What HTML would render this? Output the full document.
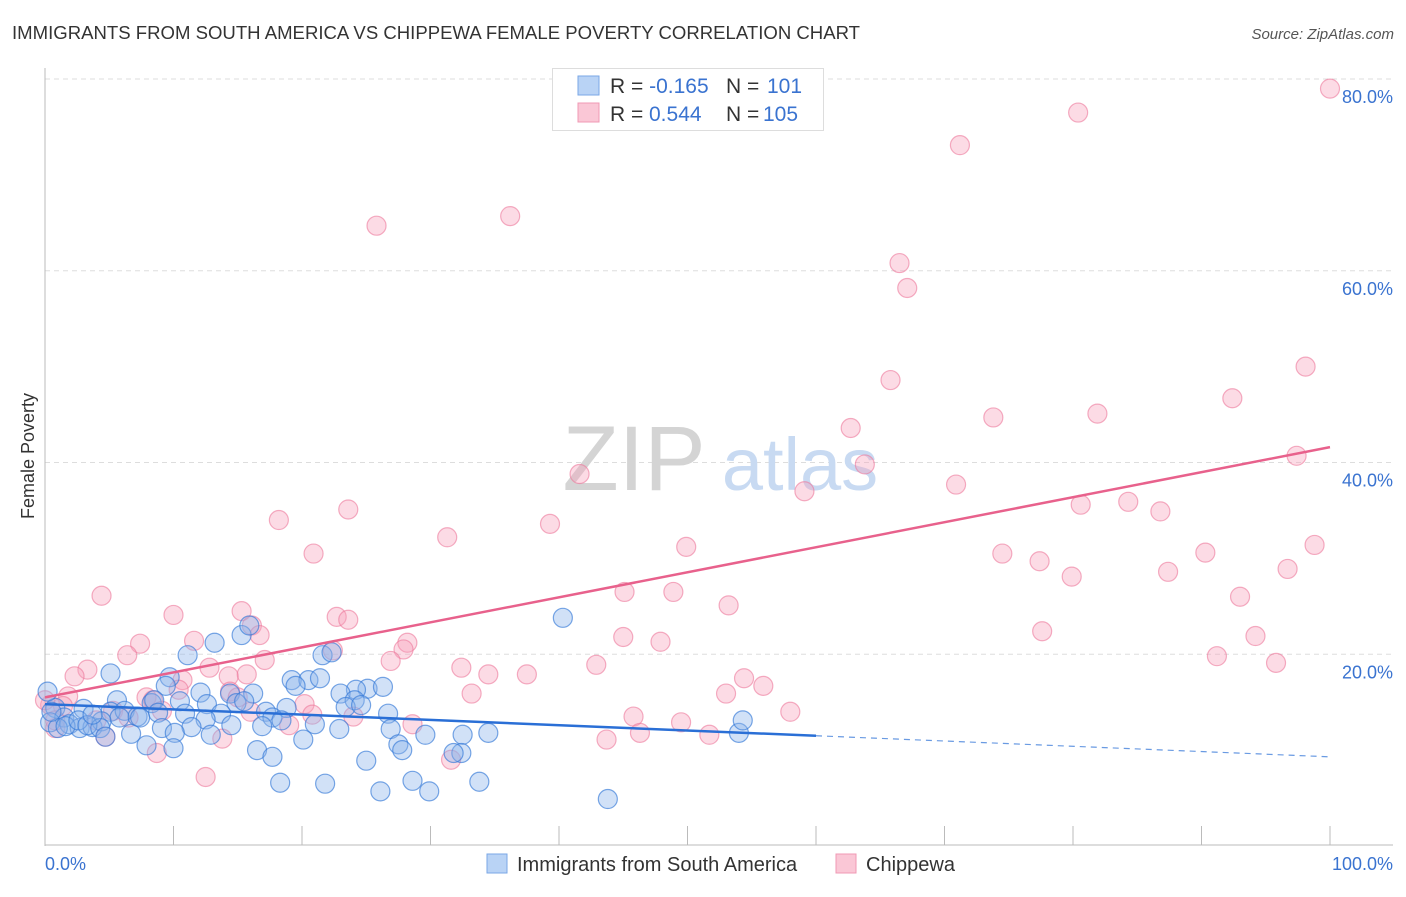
<!DOCTYPE html>
<html><head><meta charset="utf-8"><style>
body{margin:0;background:#fff;font-family:"Liberation Sans",sans-serif}
svg text{font-family:"Liberation Sans",sans-serif}
</style></head><body>
<svg id="chart" width="1406" height="892">
<text x="12" y="39" font-size="18" fill="#333" textLength="848" lengthAdjust="spacingAndGlyphs">IMMIGRANTS FROM SOUTH AMERICA VS CHIPPEWA FEMALE POVERTY CORRELATION CHART</text>
<text x="1394" y="39" font-size="15" fill="#555" font-style="italic" text-anchor="end">Source: ZipAtlas.com</text>
<g id="grid"></g>
<g><text x="634" y="490" font-size="92" fill="#d4d4d4" font-family="Liberation Serif" text-anchor="middle">ZIP</text><text x="800" y="490" font-size="74" fill="#c8daf2" text-anchor="middle">atlas</text></g>
<line x1="45" y1="68" x2="45" y2="846" stroke="#bbb"/>
<line x1="45" y1="845" x2="1393" y2="845" stroke="#bbb"/>
<g id="xticks"></g>
<g id="yticks"></g>
<text x="0" y="0" transform="translate(34,456) rotate(-90)" font-size="18" fill="#333" text-anchor="middle">Female Poverty</text>
<g id="pink"></g>
<g id="blue"></g>
<g id="trends"></g>
<g>
<rect x="552.5" y="68.5" width="271" height="62" fill="#fff" stroke="#ddd"/>
<rect x="578" y="76" width="21" height="19" fill="#b9d3f5" stroke="#7aa7e6"/>
<rect x="578" y="103" width="21" height="19" fill="#fac7d6" stroke="#f09ab4"/>
<text x="610" y="93" font-size="21" fill="#333">R = <tspan fill="#3a73d0">-0.165</tspan><tspan x="726">N = </tspan><tspan x="767" fill="#3a73d0">101</tspan></text>
<text x="610" y="121" font-size="21" fill="#333">R = <tspan x="649" fill="#3a73d0">0.544</tspan><tspan x="726">N = </tspan><tspan x="763" fill="#3a73d0">105</tspan></text>
</g>
<g>
<rect x="487" y="854" width="20" height="19" fill="#b9d3f5" stroke="#7aa7e6"/>
<text x="517" y="871" font-size="20" fill="#333">Immigrants from South America</text>
<rect x="836" y="854" width="20" height="19" fill="#fac7d6" stroke="#f09ab4"/>
<text x="866" y="871" font-size="20" fill="#333">Chippewa</text>
</g>
</svg>
<script>
const xTicks=[0,10,20,30,40,50,60,70,80,90,100];
const yTicks=[20,40,60,80];
const yTickLabels=["20.0%","40.0%","60.0%","80.0%"];
const xEndLabels=["0.0%","100.0%"];
const pinkX=[100,80.4,71.2,25.8,36.2,66.5,67.1,65.8,98.1,92.4,73.8,81.9,62.7,63.8,41.6,97.4,70.9,59.1,84.3,80.6,86.8,18.2,23.6,39.3,31.3,20.9,49.9,74.5,77.4,90.3,98.8,96.7,87.4,79.9,45.1,48.9,53.2,93.0,4.4,10.0,15.3,22.7,23.6,16.1,16.7,77.6,45.0,94.2,7.4,11.6,28.2,47.9,27.9,6.4,22.4,17.1,91.2,95.8,26.9,42.9,12.8,32.4,3.3,2.3,10.7,14.3,15.7,34.5,37.5,54.4,55.9,10.4,7.9,1.8,8.4,14.4,33.2,53.0,20.2,1.4,5.3,9.1,16.0,20.8,24.0,45.8,49.5,58.0,28.6,19.0,0.8,46.3,51.7,43.7,4.7,13.8,8.7,31.6,12.5,0.4,4.0,6.5,15.0,0.8,0];
const pinkY=[79.0,76.5,73.1,64.7,65.7,60.8,58.2,48.6,50.0,46.7,44.7,45.1,43.6,39.8,38.8,40.7,37.7,37.0,35.9,35.6,34.9,34.0,35.1,33.6,32.2,30.5,31.2,30.5,29.7,30.6,31.4,28.9,28.6,28.1,26.5,26.5,25.1,26.0,26.1,24.1,24.5,23.9,23.6,23.0,22.0,22.4,21.8,21.9,21.1,21.4,21.2,21.3,20.5,19.9,20.4,19.4,19.8,19.1,19.3,18.9,18.6,18.6,18.4,17.7,17.3,17.7,17.9,17.9,17.9,17.5,16.7,16.3,15.5,15.6,15.2,16.1,15.9,15.9,14.8,14.6,14.1,14.1,14.0,13.7,13.5,13.5,12.9,14.0,12.7,12.6,12.3,11.8,11.6,11.1,11.4,11.2,9.7,9.0,7.2,14.7,13.1,13.4,15.5,13.1,15.2];
const blueX=[40.3,15.3,15.9,13.2,11.1,21.6,22.3,5.1,9.7,19.2,20.5,21.4,19.5,9.4,25.1,26.3,24.2,23.0,24.1,12.1,14.4,16.2,5.6,8.3,8.5,10.5,12.6,14.9,15.5,18.8,23.4,24.6,26.7,0.8,3.0,5.1,6.2,7.2,8.8,10.9,13.7,17.2,17.7,18.4,5.8,21.0,16.9,14.5,12.5,1.5,1.9,2.7,3.7,4.4,0.4,1.0,1.6,2.6,3.3,4.3,9.1,11.4,10.1,12.9,6.7,4.7,22.9,26.9,29.6,32.5,34.5,54.0,54.3,20.1,7.9,16.5,10.0,27.5,27.8,32.4,31.8,17.7,25.0,28.6,18.3,21.8,26.1,29.9,33.8,43.8,0.2,0.5,3.7,7.4];
const blueY=[23.8,22.0,23.0,21.2,19.9,19.9,20.2,18.0,17.6,17.3,17.3,17.5,16.7,16.7,16.4,16.6,16.3,15.9,15.2,16.0,15.9,15.9,15.2,14.9,15.2,15.1,14.8,14.9,15.1,14.4,14.5,14.7,13.8,14.4,14.3,14.0,14.1,13.5,13.9,13.8,13.8,14.0,13.4,13.1,13.4,12.7,12.5,12.6,13.2,13.4,12.7,12.3,12.4,13.0,12.9,12.3,12.5,13.1,12.6,12.3,12.3,12.4,11.8,11.6,11.7,11.4,12.2,12.2,11.6,11.6,11.8,11.8,13.1,11.1,10.5,10.0,10.2,10.6,10.0,9.7,9.7,9.3,8.9,6.8,6.6,6.5,5.7,5.7,6.7,4.9,16.1,14.0,13.7,13.4];
const pinkTrend=[15.5,41.6];
const blueTrend=[14.8,9.3];
const blueSolidEnd=60;

const NS="http://www.w3.org/2000/svg";
const xs=v=>45+v*12.85;
const ys=v=>846-v*9.5875;
function mk(tag,attrs,parent){const e=document.createElementNS(NS,tag);for(const k in attrs)e.setAttribute(k,attrs[k]);parent.appendChild(e);return e;}
const grid=document.getElementById('grid'),yt=document.getElementById('yticks'),xt=document.getElementById('xticks');
yTicks.forEach((t,i)=>{
 const l=mk('line',{x1:45,x2:1393,y1:ys(t),y2:ys(t),stroke:'#ddd','stroke-dasharray':'5,4'},grid);
 
 
 const tx=mk('text',{x:1393,y:ys(t)+24,'font-size':18,fill:'#3a73d0','text-anchor':'end'},yt);
 tx.textContent=yTickLabels[i];
 
 
});
xTicks.forEach(t=>{
 const l=mk('line',{x1:xs(t),x2:xs(t),y1:826,y2:845,stroke:'#bbb'},xt);
 
 
});
const t0=mk('text',{x:45,y:870,'font-size':18,fill:'#3a73d0'},xt);t0.textContent=xEndLabels[0];


const t1=mk('text',{x:1393,y:870,'font-size':18,fill:'#3a73d0','text-anchor':'end'},xt);t1.textContent=xEndLabels[1];


const pg=document.getElementById('pink'),bg=document.getElementById('blue');
pinkX.forEach((v,i)=>{
 const c=mk('circle',{cx:xs(v),cy:ys(pinkY[i]),r:9.5,fill:'rgba(246,160,186,0.38)',stroke:'rgba(236,120,155,0.6)','stroke-width':1.2},pg);
 
 
});
blueX.forEach((v,i)=>{
 const c=mk('circle',{cx:xs(v),cy:ys(blueY[i]),r:9.5,fill:'rgba(140,180,235,0.4)',stroke:'rgba(50,120,215,0.65)','stroke-width':1.2},bg);
 
 
});
const tg=document.getElementById('trends');
const pl=mk('line',{x1:xs(0),y1:ys(pinkTrend[0]),x2:xs(100),y2:ys(pinkTrend[1]),stroke:'#e8618c','stroke-width':2.5},tg);


const bm=blueTrend[0]+(blueTrend[1]-blueTrend[0])*blueSolidEnd/100;
const bl=mk('line',{x1:xs(0),y1:ys(blueTrend[0]),x2:xs(blueSolidEnd),y2:ys(bm),stroke:'#2a6fd6','stroke-width':2.5},tg);


const bd=mk('line',{x1:xs(blueSolidEnd),y1:ys(bm),x2:xs(100),y2:ys(blueTrend[1]),stroke:'#2a6fd6','stroke-width':1.2,'stroke-dasharray':'6,5','stroke-opacity':0.7},tg);


</script>
</body></html>
